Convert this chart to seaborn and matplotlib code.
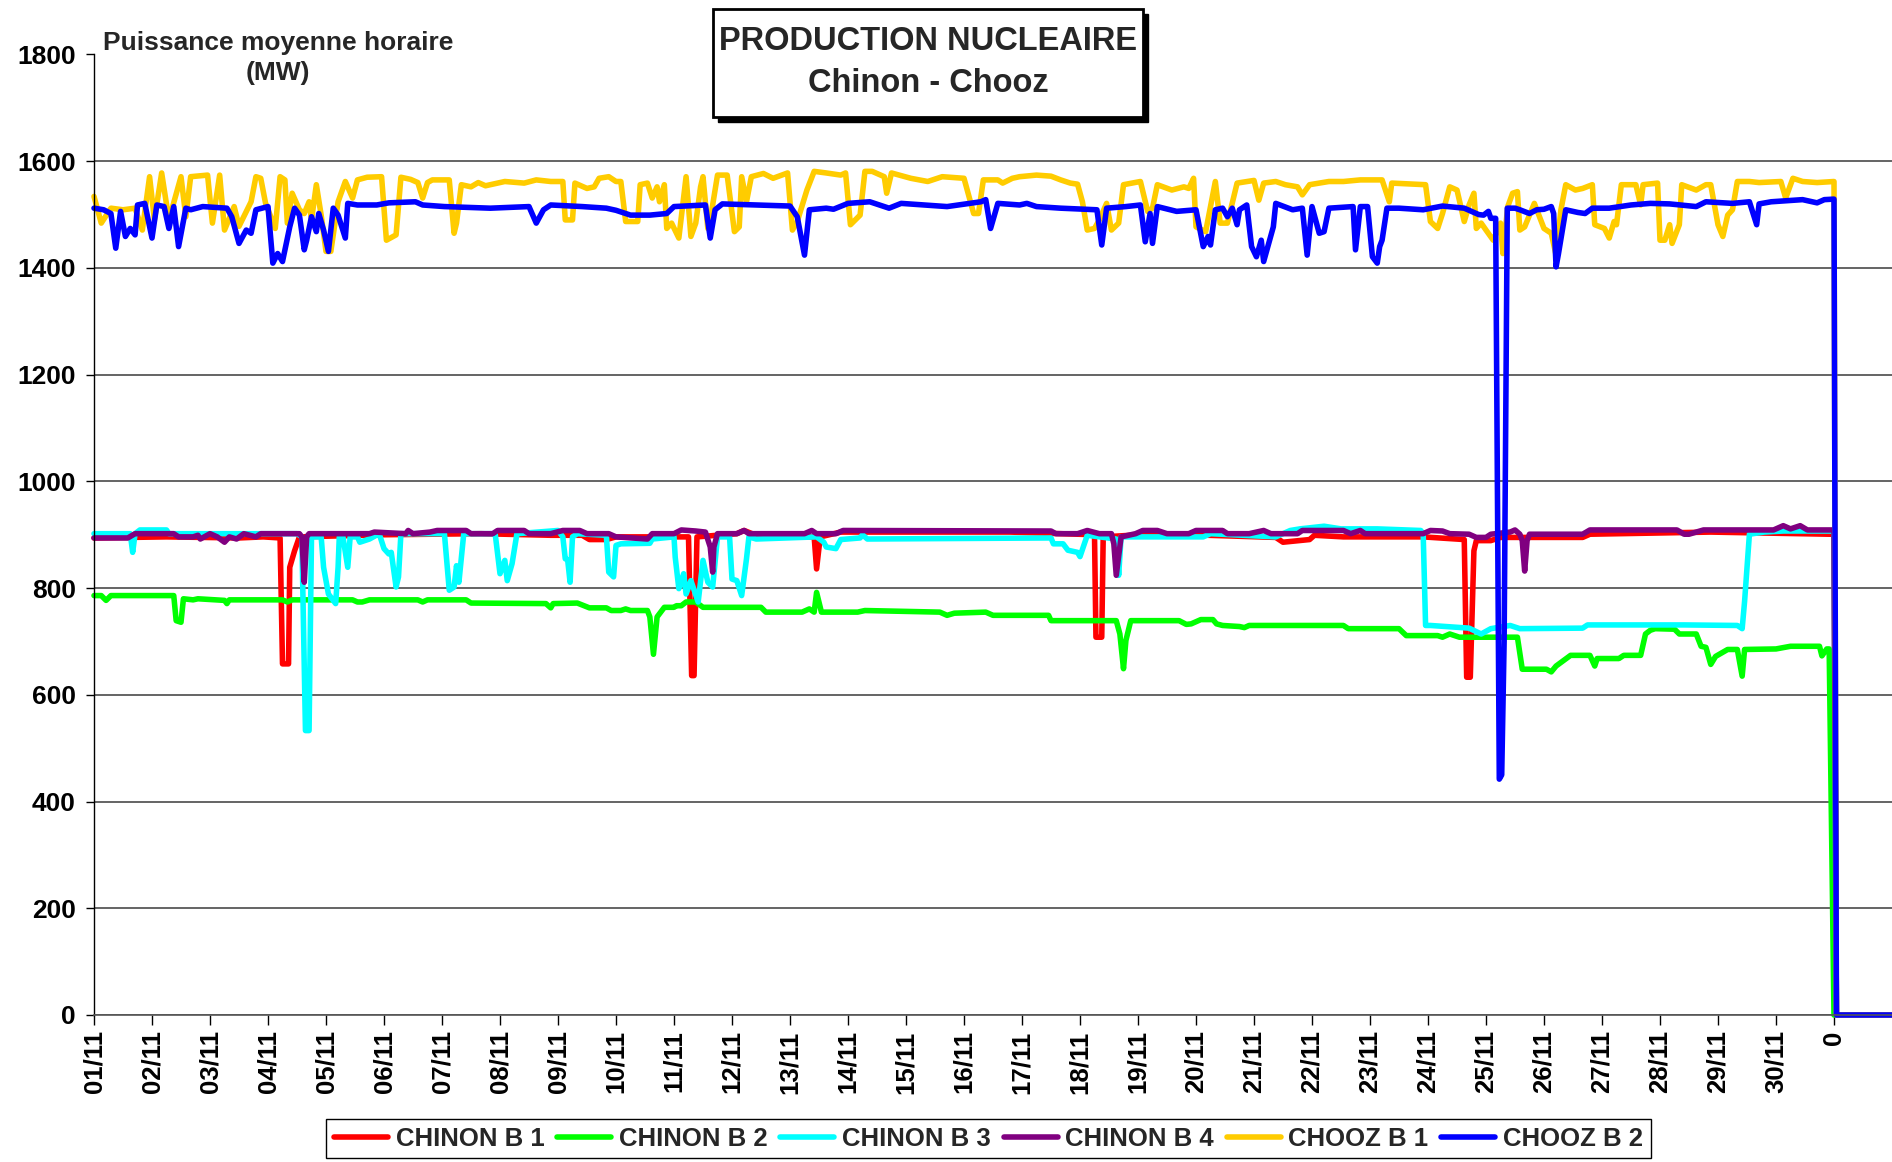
import pandas as pd
import matplotlib
matplotlib.use("Agg")
import matplotlib.pyplot as plt
from matplotlib.patches import Rectangle
import seaborn as sns

# (heure depuis le 01/11 00h, puissance MW)
chinon_b1 = [(0, 894), (30, 896), (60, 894), (70, 896), (77, 894), (78, 658), (80.5, 658), (81, 839), (83, 870),
             (85, 896), (120, 900), (160, 902), (189, 899), (202, 899), (205, 891), (212, 891), (216, 896), (246, 896),
             (247.3, 636), (248.3, 636), (249.5, 896), (266, 902), (269, 908), (274, 899), (298, 896), (299, 836),
             (300.5, 896), (309, 905), (379, 905), (414, 900), (414.6, 708), (417, 708), (417.6, 896), (440, 902),
             (489, 895), (492, 886), (503, 891), (505, 899), (517, 896), (550, 896), (567, 891), (568, 633),
             (569.5, 633), (571, 870), (572, 889), (578, 889), (582, 895), (616, 895), (619, 901), (669, 905),
             (718, 901), (720, 901), (721, 0), (744, 0)]

chinon_b2 = [(0, 786), (3, 786), (5, 777), (7, 786), (33, 786), (34, 739), (36, 736), (37, 780), (41, 778), (43, 780),
             (54, 777), (55, 771), (56, 778), (78, 778), (80, 774), (82, 778), (107, 778), (109, 774), (111, 774),
             (114, 778), (134, 778), (136, 774), (138, 778), (154, 778), (156, 772), (187, 771), (189, 763), (190, 771),
             (200, 772), (205, 763), (212, 763), (214, 758), (218, 758), (220, 761), (222, 758), (229, 758), (230, 746),
             (231.5, 676), (233, 746), (236, 764), (240, 764), (241, 767), (243, 767), (245, 774), (249, 774),
             (252, 764), (276, 764), (278, 755), (293, 755), (296, 761), (298, 755), (299, 792), (301, 755), (316, 755),
             (319, 758), (350, 755), (353, 749), (356, 753), (369, 755), (372, 749), (395, 749), (396, 739), (423, 739),
             (424.5, 714), (426, 649), (427, 702), (429, 739), (449, 739), (452, 732), (454, 733), (458, 741),
             (463, 741), (464.5, 733), (467, 730), (474, 728), (476, 726), (478, 730), (517, 730), (519, 724),
             (540, 724), (543, 711), (556, 711), (558, 708), (561, 714), (565, 708), (589, 708), (591, 648), (601, 648),
             (603, 643), (605, 654), (608, 664), (611, 674), (619, 674), (621, 654), (622, 668), (631, 668), (633, 674),
             (640, 674), (642, 714), (644, 721), (646, 724), (654, 723), (656, 714), (663, 714), (665, 691), (667, 689),
             (669, 657), (671, 672), (676, 685), (680, 685), (682, 635), (683, 685), (696, 686), (702, 691), (714, 691),
             (715, 673), (717, 686), (718, 686), (720, 0), (744, 0)]

chinon_b3 = [(0, 902), (15, 902), (16, 867), (17, 902), (19, 909), (30, 909), (31, 902), (84, 902), (86, 896),
             (87.5, 533), (89, 533), (90, 896), (94, 896), (95, 839), (97, 789), (100, 771), (101, 839), (101.5, 896),
             (103, 896), (105, 839), (106, 896), (109, 896), (110, 886), (114, 892), (118, 902), (120, 874), (122, 864),
             (123, 867), (125, 802), (126, 821), (127, 902), (145, 902), (147, 796), (149, 802), (150, 842), (151, 811),
             (153, 902), (166, 902), (168, 827), (170, 852), (171, 814), (173, 846), (175, 902), (192, 908), (194, 896),
             (195, 855), (196, 853), (197, 811), (198, 896), (200, 902), (212, 899), (213, 830), (215, 821), (216, 880),
             (218, 883), (230, 884), (231, 892), (240, 896), (240.5, 858), (242, 799), (244, 827), (245, 789),
             (247, 814), (250, 774), (252, 852), (254, 811), (256, 802), (258, 896), (263, 896), (264, 817), (266, 814),
             (268, 786), (270, 855), (271, 896), (274, 892), (299, 896), (302, 886), (303, 877), (307, 874), (309, 891),
             (317, 894), (318, 900), (320, 892), (396, 894), (397, 883), (401, 883), (403, 871), (407, 867), (408, 859),
             (411, 899), (423, 892), (424, 824), (425, 896), (459, 896), (462, 902), (489, 896), (495, 908), (499, 911),
             (509, 916), (516, 911), (531, 911), (549, 908), (550, 902), (551, 730), (553, 730), (569, 725), (574, 714),
             (578, 724), (586, 730), (590, 724), (616, 725), (618, 731), (658, 731), (680, 730), (682, 724), (683, 775),
             (685, 901), (691, 905), (699, 907), (720, 907), (721, 0), (744, 0)]

chinon_b4 = [(0, 894), (14, 894), (17, 902), (33, 902), (35, 896), (41, 896), (43, 899), (44, 892), (48, 902),
             (51, 896), (54, 886), (56, 896), (59, 892), (62, 902), (67, 896), (69, 902), (85, 902), (86, 896),
             (87, 811), (88, 896), (89, 902), (114, 902), (116, 905), (129, 902), (130, 908), (132, 902), (139, 905),
             (142, 908), (154, 908), (156, 902), (165, 902), (167, 908), (178, 908), (180, 902), (189, 902), (194, 908),
             (201, 908), (204, 902), (213, 902), (216, 896), (229, 892), (231, 902), (240, 902), (243, 909), (249, 907),
             (253, 905), (255, 877), (256, 830), (256.5, 877), (258, 902), (266, 902), (269, 908), (271, 902),
             (294, 902), (297, 908), (299, 902), (307, 902), (310, 908), (396, 907), (398, 902), (407, 902), (411, 908),
             (416, 902), (421, 902), (422, 883), (423, 824), (425, 896), (431, 902), (434, 908), (440, 908), (444, 902),
             (453, 902), (456, 908), (467, 908), (469, 902), (478, 902), (484, 908), (487, 902), (498, 902), (500, 908),
             (517, 908), (520, 902), (524, 908), (526, 902), (550, 902), (553, 908), (558, 907), (561, 902), (569, 901),
             (572, 895), (576, 895), (578, 901), (586, 905), (588, 909), (590, 901), (591, 889), (592, 832), (593, 889),
             (594, 901), (616, 901), (619, 909), (655, 909), (658, 901), (660, 901), (666, 909), (695, 909), (699, 917),
             (702, 911), (706, 917), (709, 909), (720, 909), (721, 0), (744, 0)]

chooz_b1 = [(0, 1534), (3, 1484), (7, 1512), (12, 1509), (17, 1512), (20, 1471), (23, 1571), (25, 1490), (28, 1578),
            (31, 1490), (36, 1571), (38, 1496), (40, 1571), (47, 1574), (49, 1484), (52, 1574), (54, 1471), (58, 1515),
            (60, 1478), (65, 1524), (67, 1571), (69, 1568), (71, 1521), (75, 1474), (77, 1571), (79, 1565), (80, 1484),
            (82, 1540), (85, 1509), (87, 1502), (89, 1524), (90, 1490), (92, 1556), (94, 1499), (96, 1431), (98, 1431),
            (101, 1524), (104, 1562), (107, 1531), (109, 1565), (113, 1570), (119, 1571), (121, 1452), (125, 1462),
            (127, 1570), (131, 1566), (134, 1560), (136, 1531), (138, 1560), (140, 1565), (147, 1565), (149, 1465),
            (150, 1484), (152, 1556), (156, 1552), (159, 1560), (162, 1554), (170, 1562), (178, 1559), (183, 1565),
            (189, 1562), (194, 1562), (195, 1490), (198, 1490), (199, 1559), (204, 1549), (207, 1552), (209, 1568),
            (213, 1571), (216, 1562), (218, 1562), (220, 1487), (225, 1487), (226, 1556), (229, 1559), (231, 1531),
            (233, 1552), (234, 1524), (236, 1556), (237, 1474), (239, 1484), (242, 1456), (245, 1571), (247, 1459),
            (249, 1484), (251, 1552), (252, 1571), (254, 1474), (255, 1490), (258, 1574), (262, 1574), (265, 1468),
            (267, 1477), (268, 1571), (270, 1524), (272, 1571), (277, 1577), (281, 1568), (287, 1578), (289, 1471),
            (291, 1487), (295, 1546), (298, 1581), (303, 1578), (309, 1574), (311, 1578), (313, 1481), (317, 1499),
            (319, 1581), (322, 1581), (327, 1571), (328, 1540), (330, 1578), (338, 1568), (345, 1562), (351, 1571),
            (360, 1568), (364, 1502), (366, 1502), (368, 1565), (374, 1565), (376, 1559), (380, 1568), (383, 1571),
            (390, 1574), (396, 1572), (400, 1565), (404, 1559), (407, 1557), (409, 1524), (411, 1471), (414, 1474),
            (416, 1490), (419, 1521), (421, 1471), (424, 1484), (426, 1556), (433, 1562), (436, 1506), (438, 1512),
            (440, 1556), (446, 1546), (451, 1552), (453, 1549), (455, 1568), (456, 1477), (460, 1468), (464, 1562),
            (466, 1484), (469, 1484), (473, 1559), (480, 1564), (482, 1527), (484, 1559), (489, 1562), (493, 1556),
            (498, 1552), (500, 1537), (503, 1556), (511, 1562), (517, 1562), (524, 1565), (533, 1565), (536, 1524),
            (537, 1559), (551, 1556), (553, 1487), (556, 1474), (558, 1502), (561, 1552), (564, 1546), (567, 1487),
            (569, 1518), (571, 1540), (572, 1474), (574, 1484), (576, 1471), (579, 1452), (582, 1484), (583, 1427),
            (585, 1515), (587, 1540), (589, 1543), (590, 1471), (592, 1477), (596, 1521), (600, 1474), (603, 1465),
            (605, 1424), (607, 1509), (609, 1556), (613, 1546), (616, 1549), (620, 1556), (621, 1481), (625, 1474),
            (627, 1456), (629, 1487), (630, 1481), (632, 1556), (638, 1556), (640, 1518), (641, 1556), (647, 1559),
            (648, 1452), (650, 1452), (652, 1481), (653, 1446), (656, 1481), (657, 1556), (663, 1546), (667, 1556),
            (669, 1556), (672, 1481), (674, 1459), (676, 1499), (678, 1509), (680, 1562), (685, 1562), (689, 1560),
            (698, 1562), (700, 1531), (703, 1568), (707, 1562), (713, 1560), (720, 1562), (721, 0), (744, 0)]

chooz_b2 = [(0, 1512), (4, 1509), (7, 1502), (9, 1437), (11, 1506), (13, 1459), (15, 1474), (17, 1462), (18, 1518),
            (21, 1521), (24, 1456), (26, 1518), (29, 1515), (31, 1474), (33, 1515), (35, 1440), (38, 1512), (40, 1509),
            (45, 1515), (55, 1512), (57, 1496), (60, 1446), (63, 1471), (65, 1465), (67, 1509), (72, 1515), (74, 1409),
            (76, 1427), (78, 1412), (81, 1477), (83, 1512), (85, 1499), (87, 1434), (88, 1452), (90, 1496), (92, 1468),
            (93, 1502), (95, 1471), (97, 1431), (99, 1512), (101, 1499), (104, 1456), (105, 1521), (109, 1518),
            (117, 1518), (122, 1522), (133, 1524), (136, 1518), (145, 1515), (164, 1512), (180, 1515), (183, 1484),
            (186, 1509), (189, 1518), (202, 1515), (212, 1512), (216, 1508), (222, 1499), (230, 1499), (237, 1502),
            (240, 1515), (253, 1518), (255, 1456), (257, 1509), (260, 1520), (288, 1516), (291, 1496), (294, 1424),
            (296, 1509), (303, 1512), (306, 1510), (312, 1521), (321, 1524), (329, 1512), (334, 1521), (353, 1515),
            (367, 1524), (369, 1528), (371, 1474), (374, 1521), (383, 1518), (386, 1521), (390, 1515), (400, 1512),
            (415, 1509), (417, 1443), (419, 1512), (427, 1515), (433, 1518), (435, 1449), (437, 1502), (438, 1446),
            (440, 1515), (448, 1506), (456, 1509), (459, 1440), (461, 1459), (462, 1443), (464, 1509), (467, 1512),
            (469, 1496), (471, 1512), (473, 1481), (474, 1509), (477, 1518), (479, 1440), (481, 1421), (483, 1452),
            (484, 1412), (488, 1477), (489, 1521), (496, 1509), (500, 1512), (502, 1424), (504, 1515), (507, 1465),
            (509, 1468), (511, 1512), (521, 1515), (522, 1434), (524, 1515), (527, 1515), (529, 1421), (531, 1409),
            (532, 1440), (533, 1452), (535, 1512), (540, 1512), (550, 1509), (558, 1516), (567, 1512), (573, 1500),
            (575, 1499), (577, 1506), (578, 1493), (580, 1493), (581.5, 442), (582.5, 450), (583.5, 700),
            (584.8, 1512), (588, 1512), (590, 1509), (594, 1502), (597, 1509), (600, 1510), (603, 1515), (604, 1502),
            (605, 1402), (606, 1427), (609, 1509), (614, 1504), (617, 1502), (620, 1512), (627, 1512), (636, 1518),
            (644, 1521), (652, 1520), (663, 1515), (667, 1524), (678, 1521), (685, 1524), (688, 1481), (689, 1520),
            (694, 1524), (707, 1528), (713, 1522), (716, 1528), (720, 1529), (721, 0), (744, 0)]

tranches = ["CHINON B 1", "CHINON B 2", "CHINON B 3", "CHINON B 4", "CHOOZ B 1", "CHOOZ B 2"]
couleurs = ["#FF0000", "#00FF00", "#00FFFF", "#800080", "#FFCC00", "#0000FF"]
jours = [f"{d:02d}/11" for d in range(1, 31)] + ["0"]

frames = []
for nom, pts in zip(tranches, [chinon_b1, chinon_b2, chinon_b3, chinon_b4, chooz_b1, chooz_b2]):
    d = pd.DataFrame(pts, columns=["heure", "mw"])
    d["jour"] = d["heure"] / 24
    d["tranche"] = nom
    frames.append(d)
df = pd.concat(frames, ignore_index=True)

sns.set_theme(style="white")
plt.rcParams["font.family"] = ["Liberation Sans", "DejaVu Sans"]
plt.rcParams["font.weight"] = "bold"

fig = plt.figure(figsize=(18.92, 11.62), dpi=100)
ax = fig.add_axes([94 / 1892, 1 - 1015 / 1162, 1798 / 1892, (1015 - 54.5) / 1162])

sns.lineplot(data=df, x="jour", y="mw", hue="tranche", hue_order=tranches,
             palette=dict(zip(tranches, couleurs)), estimator=None, sort=False,
             lw=4.0, ax=ax)
for ln in ax.get_lines():
    ln.set_clip_on(False)
    ln.set_solid_joinstyle("round")

handles, labels = ax.get_legend_handles_labels()
ax.legend_.remove()

ax.set_xlim(0, 31)
ax.set_ylim(0, 1800)
ax.set_yticks(range(0, 1801, 200))
ax.set_xticks(range(31))
ax.set_xticklabels(jours, rotation=90, fontsize=18.5, fontweight="bold")
ax.tick_params(axis="y", labelsize=19, direction="out", length=6, width=1, pad=7, left=True, colors="black")
ax.tick_params(axis="x", direction="out", length=7, width=1, pad=4, bottom=True, colors="black")
for t in ax.get_yticklabels():
    t.set_fontweight("bold")
ax.set_xlabel("")
ax.set_ylabel("")
ax.grid(axis="y", color="#3a3a3a", lw=1.1)
ax.grid(axis="x", visible=False)
ax.set_axisbelow(True)
for s in ["top", "right"]:
    ax.spines[s].set_visible(False)
ax.spines["left"].set_color("black")
ax.spines["bottom"].set_color("#555555")
ax.spines["left"].set_linewidth(1)
ax.spines["bottom"].set_linewidth(1.2)

# libelle de l'axe
fig.text(278 / 1892, 1 - 58 / 1162, "Puissance moyenne horaire\n(MW)", ha="center", va="center",
         fontsize=19, fontweight="bold", linespacing=1.35,
         bbox=dict(facecolor="white", edgecolor="none", pad=4))

# cadre du titre avec ombre
bx0, by0, bw, bh = 713 / 1892, 1 - 117 / 1162, 430 / 1892, 108 / 1162
fig.add_artist(Rectangle((bx0 + 5 / 1892, by0 - 5 / 1162), bw, bh, transform=fig.transFigure,
                         facecolor="black", edgecolor="black", zorder=5))
fig.add_artist(Rectangle((bx0, by0), bw, bh, transform=fig.transFigure,
                         facecolor="white", edgecolor="black", lw=2, zorder=6))
fig.text(bx0 + bw / 2, 1 - 42 / 1162, "PRODUCTION NUCLEAIRE", ha="center", va="center",
         fontsize=23.5, fontweight="bold", zorder=7)
fig.text(bx0 + bw / 2, 1 - 83 / 1162, "Chinon - Chooz", ha="center", va="center",
         fontsize=23.5, fontweight="bold", zorder=7)

leg = fig.legend(handles, labels, loc="lower center", bbox_to_anchor=(0.5225, -0.008), ncol=6,
                 frameon=True, fancybox=False, edgecolor="black", framealpha=1,
                 prop={"weight": "bold", "size": 18.5}, handlelength=2.1, handletextpad=0.3,
                 columnspacing=0.5, borderpad=0.3)
for h in leg.get_lines():
    h.set_linewidth(4.0)
leg.get_frame().set_linewidth(1)

fig.savefig("out.png", dpi=100)
